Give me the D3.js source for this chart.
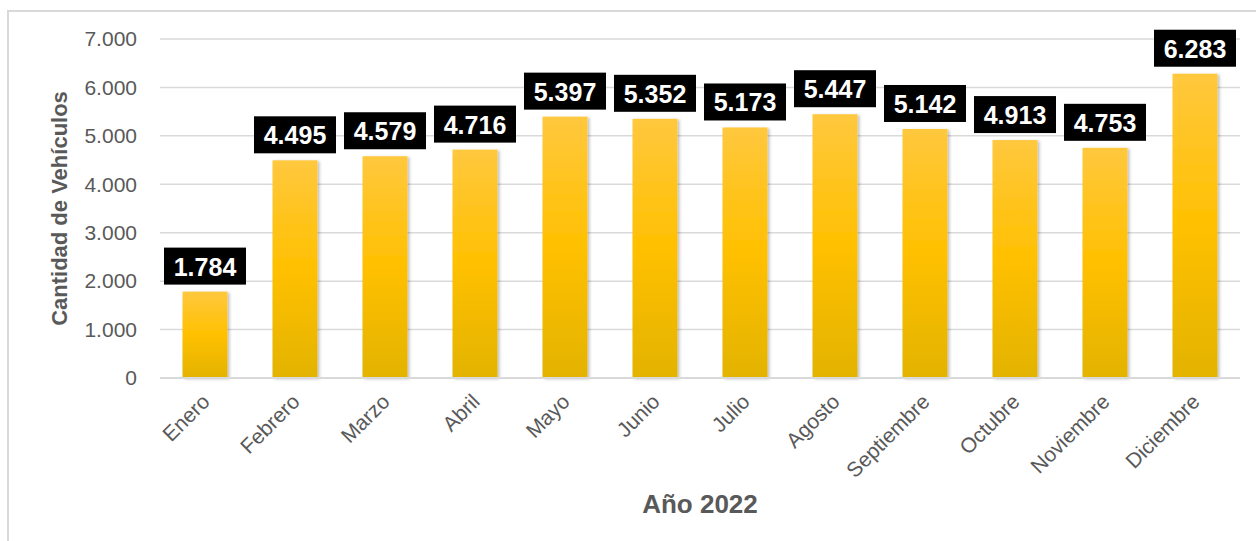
<!DOCTYPE html>
<html>
<head>
<meta charset="utf-8">
<script src="https://cdn.jsdelivr.net/npm/d3@7"></script>
<style>
  body { margin: 0; background: #fff; }
  svg { display: block; font-family: "Liberation Sans", Arial, sans-serif; }
</style>
</head>
<body>
<div id="chart"></div>
<script>
// DATA
const months = ["Enero", "Febrero", "Marzo", "Abril", "Mayo", "Junio", "Julio",
  "Agosto", "Septiembre", "Octubre", "Noviembre", "Diciembre"];
const vehicles = [1784, 4495, 4579, 4716, 5397, 5352, 5173, 5447, 5142, 4913, 4753, 6283];
const yTicks = [0, 1000, 2000, 3000, 4000, 5000, 6000, 7000];

// CONSTANTS
const width = 1256;
const height = 541;
const margin = { top: 39, right: 16, bottom: 163, left: 160 };
const gridGrey = "#d9d9d9";
const textGrey = "#595959";

const fmt = (v) => d3.format(",")(v).replace(/,/g, ".");

const svg = d3.select("#chart")
  .append("svg")
  .attr("width", width)
  .attr("height", height);

// gradient + shadow
const defs = svg.append("defs");
const grad = defs.append("linearGradient")
  .attr("id", "barGrad")
  .attr("x1", 0).attr("y1", 0).attr("x2", 0).attr("y2", 1);
grad.append("stop").attr("offset", "0%").attr("stop-color", "#ffc83e");
grad.append("stop").attr("offset", "50%").attr("stop-color", "#ffc000");
grad.append("stop").attr("offset", "100%").attr("stop-color", "#e3b300");

const shadow = defs.append("filter").attr("id", "shadow")
  .attr("x", "-20%").attr("y", "-5%").attr("width", "140%").attr("height", "110%");
shadow.append("feDropShadow")
  .attr("dx", 2).attr("dy", 1).attr("stdDeviation", 1.5)
  .attr("flood-color", "#000").attr("flood-opacity", 0.25);

// frame
svg.append("rect")
  .attr("x", 8).attr("y", 11)
  .attr("width", width + 20).attr("height", height + 20)
  .attr("fill", "none")
  .attr("stroke", gridGrey)
  .attr("stroke-width", 2);

const x = d3.scaleBand()
  .domain(months)
  .range([margin.left, width - margin.right])
  .paddingInner(0.5)
  .paddingOuter(0.25);

const y = d3.scaleLinear()
  .domain([0, 7000])
  .range([height - margin.bottom, margin.top]);

// gridlines
svg.append("g")
  .selectAll("line")
  .data(yTicks)
  .join("line")
  .attr("x1", margin.left)
  .attr("x2", width - margin.right)
  .attr("y1", (d) => y(d))
  .attr("y2", (d) => y(d))
  .attr("stroke", gridGrey)
  .attr("stroke-width", 1.5);

// y axis labels
const yAxis = d3.axisLeft(y).tickValues(yTicks).tickFormat(fmt).tickSize(0).tickPadding(23);
svg.append("g")
  .attr("transform", `translate(${margin.left},0)`)
  .call(yAxis)
  .call((g) => g.select(".domain").remove())
  .selectAll("text")
  .attr("fill", textGrey)
  .style("font-size", "21px")
  .style("font-family", "Liberation Sans, Arial, sans-serif");

// bars
svg.append("g")
  .selectAll("rect")
  .data(vehicles)
  .join("rect")
  .attr("x", (d, i) => x(months[i]))
  .attr("y", (d) => y(d))
  .attr("width", x.bandwidth())
  .attr("height", (d) => y(0) - y(d))
  .attr("fill", "url(#barGrad)")
  .attr("filter", "url(#shadow)");

// x axis labels
const xAxis = d3.axisBottom(x).tickSize(0).tickPadding(0);
svg.append("g")
  .attr("transform", `translate(0,${y(0)})`)
  .call(xAxis)
  .call((g) => g.select(".domain").remove())
  .selectAll("text")
  .attr("fill", textGrey)
  .style("font-size", "21px")
  .style("font-family", "Liberation Sans, Arial, sans-serif")
  .attr("text-anchor", "end")
  .attr("dy", 0)
  .attr("y", 0)
  .attr("transform", "translate(6,25) rotate(-45)");

// baseline
svg.append("line")
  .attr("x1", margin.left)
  .attr("x2", width - margin.right)
  .attr("y1", y(0))
  .attr("y2", y(0))
  .attr("stroke", gridGrey)
  .attr("stroke-width", 2);

// data labels
const labels = svg.append("g")
  .selectAll("g")
  .data(vehicles)
  .join("g")
  .attr("transform", (d, i) => `translate(${x(months[i]) + x.bandwidth() / 2},${y(d) - 7})`);

labels.append("rect")
  .attr("x", -41)
  .attr("y", -37)
  .attr("width", 82)
  .attr("height", 37)
  .attr("fill", "#000");

labels.append("text")
  .attr("x", 0)
  .attr("y", -18)
  .attr("text-anchor", "middle")
  .attr("dominant-baseline", "central")
  .attr("fill", "#fff")
  .style("font-size", "25px")
  .style("font-weight", "bold")
  .text((d) => fmt(d));

// axis titles
svg.append("text")
  .attr("transform", `translate(67,${(y(0) + y(7000)) / 2}) rotate(-90)`)
  .attr("text-anchor", "middle")
  .attr("fill", textGrey)
  .style("font-size", "22px")
  .style("font-weight", "bold")
  .text("Cantidad de Vehículos");

svg.append("text")
  .attr("x", (margin.left + width - margin.right) / 2)
  .attr("y", 513)
  .attr("text-anchor", "middle")
  .attr("fill", textGrey)
  .style("font-size", "26px")
  .style("font-weight", "bold")
  .text("Año 2022");
</script>
</body>
</html>
